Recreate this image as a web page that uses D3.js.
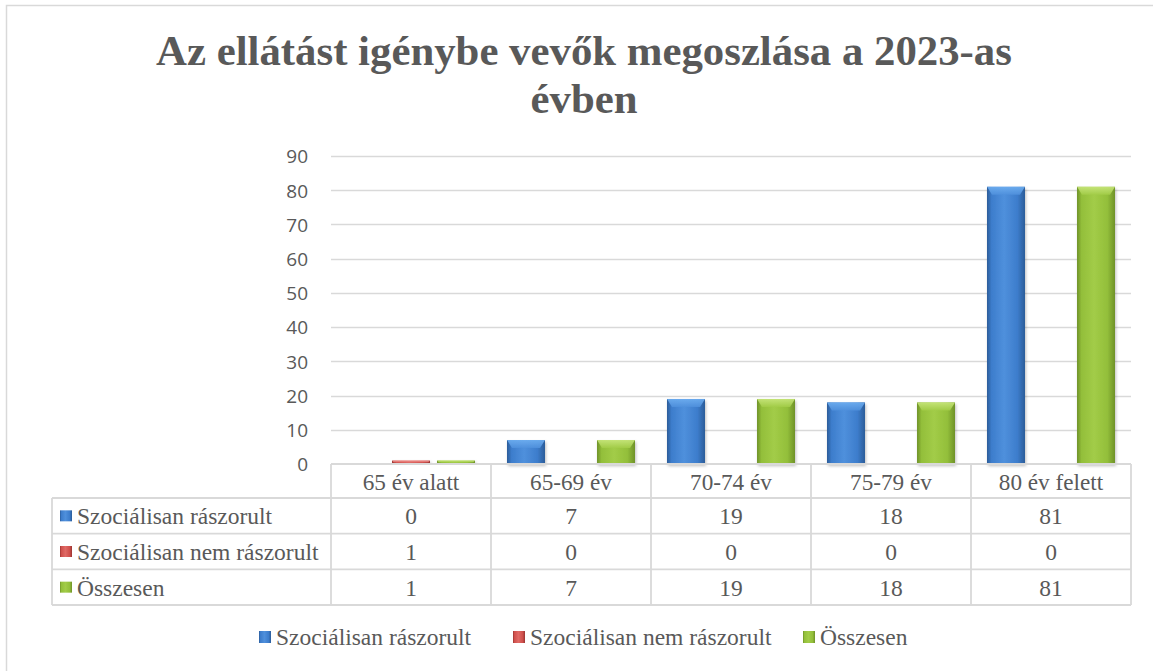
<!DOCTYPE html>
<html><head><meta charset="utf-8">
<script src="https://cdn.jsdelivr.net/npm/d3@7"></script>
<style>html,body{margin:0;padding:0;background:#fff;}svg{display:block;}
.serif{font-family:"Liberation Serif","Times New Roman",serif;}
.sans{font-family:"Open Sans","Liberation Sans",sans-serif;}
</style>
</head><body>
<script>
const titleLines = ["Az ellátást igénybe vevők megoszlása a 2023-as", "évben"];
const categories = ["65 év alatt", "65-69 év", "70-74 év", "75-79 év", "80 év felett"];
const seriesNames = ["Szociálisan rászorult", "Szociálisan nem rászorult", "Összesen"];
const szocRaszorult = [0, 7, 19, 18, 81];
const szocNemRaszorult = [1, 0, 0, 0, 0];
const osszesen = [1, 7, 19, 18, 81];
const yTicks = [0, 10, 20, 30, 40, 50, 60, 70, 80, 90];

const seriesValues = [szocRaszorult, szocNemRaszorult, osszesen];
const colors = [
  {dark:"#2b5c99", mid:"#3d7dcc", light:"#4f90dc", top:"#6eaef0"},
  {dark:"#9a3532", mid:"#d0504c", light:"#e06a66", top:"#f09a96"},
  {dark:"#6f9229", mid:"#93bf3a", light:"#a2cc48", top:"#c8e67c"}
];

const W = 1153, H = 671;
const svg = d3.select("body").append("svg").attr("width", W).attr("height", H);
const defs = svg.append("defs");
colors.forEach((c, i) => {
  const g = defs.append("linearGradient").attr("id", "hg" + i).attr("x1", 0).attr("x2", 1).attr("y1", 0).attr("y2", 0);
  [[0, c.dark], [0.12, c.mid], [0.45, c.light], [0.8, c.mid], [1, c.dark]].forEach(s =>
    g.append("stop").attr("offset", s[0]).attr("stop-color", s[1]));
  const t = defs.append("linearGradient").attr("id", "tg" + i).attr("x1", 0).attr("x2", 0).attr("y1", 0).attr("y2", 1);
  [[0, c.top], [1, c.light]].forEach(s => t.append("stop").attr("offset", s[0]).attr("stop-color", s[1]));
});
const f = defs.append("filter").attr("id", "sh").attr("x", "-20%").attr("y", "-20%").attr("width", "140%").attr("height", "140%");
f.append("feDropShadow").attr("dx", 1).attr("dy", 2).attr("stdDeviation", 1.5).attr("flood-color", "#000").attr("flood-opacity", 0.25);

// chart border
svg.append("rect").attr("x", 6.5).attr("y", 5.5).attr("width", 1170).attr("height", 700)
  .attr("fill", "#fff").attr("stroke", "#d9d9d9").attr("stroke-width", 1.5);

// title
const title = svg.append("text").attr("class", "serif").attr("text-anchor", "middle")
  .attr("font-weight", "bold").attr("font-size", 42.8).attr("fill", "#595959");
titleLines.forEach((l, i) => title.append("tspan").attr("x", 584).attr("y", 65 + i * 48).text(l));

// scales
const x = d3.scaleBand().domain(categories).range([331, 1131]);
const xs = d3.scaleBand().domain(seriesNames).range([16, 144]).paddingInner(0.156);
const y = d3.scaleLinear().domain([0, 90]).range([464, 156]);

// gridlines
svg.append("g").selectAll("line").data(yTicks.filter(d => d > 0)).join("line")
  .attr("x1", 331).attr("x2", 1131).attr("y1", d => Math.round(y(d)) + 0.5).attr("y2", d => Math.round(y(d)) + 0.5)
  .attr("stroke", "#d9d9d9").attr("stroke-width", 1.5);

// y axis labels
const yAxis = d3.axisLeft(y).tickValues(yTicks).tickSize(0).tickPadding(0);
const ya = svg.append("g").attr("transform", "translate(308,0)").call(yAxis);
ya.select(".domain").remove();
ya.attr("font-family", null).attr("font-size", null);
ya.selectAll("text").attr("class", "sans").attr("font-size", 19)
  .attr("fill", "#595959").attr("dy", "0.36em");

// bars
seriesNames.forEach((s, si) => {
  const g = svg.append("g");
  categories.forEach((c, ci) => {
    const v = seriesValues[si][ci];
    if (!v) return;
    const x0 = x(c) + xs(s), bw = xs.bandwidth();
    const y0 = y(v), y1 = y(0);
    const h = y1 - y0;
    const bg = g.append("g").attr("filter", "url(#sh)");
    bg.append("rect").attr("x", x0).attr("y", y0).attr("width", bw).attr("height", h).attr("fill", `url(#hg${si})`);
    const bh = Math.min(8, h / 2), ins = Math.min(5, bh);
    bg.append("path").attr("d", `M${x0},${y0}H${x0 + bw}L${x0 + bw - ins},${y0 + bh}H${x0 + ins}Z`)
      .attr("fill", `url(#tg${si})`).attr("opacity", 0.9);
  });
});

// data table
const rowY = d3.scaleBand().domain(seriesNames).range([498, 605]);
const tb = svg.append("g");
const border = {stroke: "#d9d9d9", width: 1.8};
tb.append("line").attr("x1", 331).attr("x2", 1131).attr("y1", 464).attr("y2", 464).attr("stroke", border.stroke).attr("stroke-width", border.width);
[498].concat(seriesNames.map(s => rowY(s) + rowY.bandwidth())).forEach(yy =>
  tb.append("line").attr("x1", 52).attr("x2", 1131).attr("y1", yy).attr("y2", yy).attr("stroke", border.stroke).attr("stroke-width", border.width));
tb.append("line").attr("x1", 52).attr("x2", 52).attr("y1", 498).attr("y2", 605).attr("stroke", border.stroke).attr("stroke-width", border.width);
categories.forEach(c => tb.append("line").attr("x1", x(c)).attr("x2", x(c)).attr("y1", 464).attr("y2", 605).attr("stroke", border.stroke).attr("stroke-width", border.width));
tb.append("line").attr("x1", 1131).attr("x2", 1131).attr("y1", 464).attr("y2", 605).attr("stroke", border.stroke).attr("stroke-width", border.width);
tb.selectAll(".hdr").data(categories).join("text").attr("class", "hdr serif")
  .attr("x", d => x(d) + x.bandwidth() / 2).attr("y", 490).attr("text-anchor", "middle")
  .attr("font-size", 23.2).attr("fill", "#595959").text(d => d);
seriesNames.forEach((s, si) => {
  const cy = rowY(s) + rowY.bandwidth() / 2;
  tb.append("rect").attr("x", 60).attr("y", cy - 5.5).attr("width", 12).attr("height", 11).attr("fill", `url(#hg${si})`);
  tb.append("text").attr("class", "serif").attr("x", 77).attr("y", cy + 8.5).attr("font-size", 23.5)
    .attr("fill", "#595959").text(s);
  categories.forEach((c, ci) => {
    tb.append("text").attr("class", "serif").attr("x", x(c) + x.bandwidth() / 2).attr("y", cy + 8.5).attr("text-anchor", "middle")
      .attr("font-size", 23.5).attr("fill", "#595959").text(seriesValues[si][ci]);
  });
});

// legend
const legendTextX = [276, 530, 820];
const lg = svg.append("g");
seriesNames.forEach((s, si) => {
  lg.append("rect").attr("x", legendTextX[si] - 17).attr("y", 631).attr("width", 12).attr("height", 12).attr("fill", `url(#hg${si})`);
  lg.append("text").attr("class", "serif").attr("x", legendTextX[si]).attr("y", 645).attr("font-size", 23.5)
    .attr("fill", "#595959").text(s);
});
</script>
</body></html>
